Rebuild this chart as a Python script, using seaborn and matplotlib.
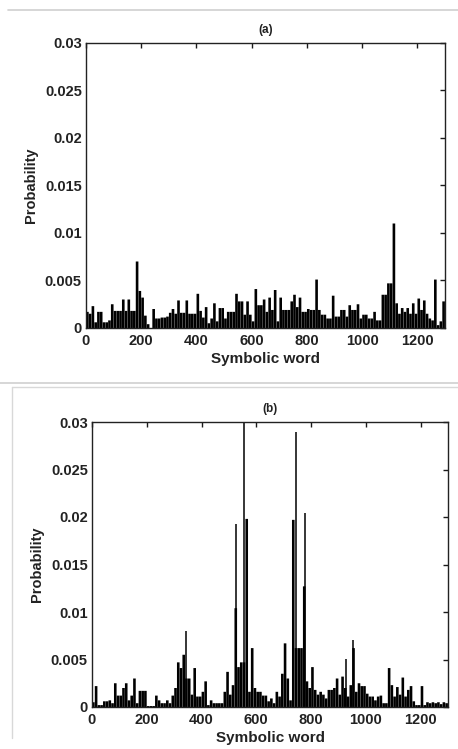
import matplotlib
matplotlib.use("Agg")
import matplotlib.pyplot as plt
from matplotlib.lines import Line2D
import numpy as np
import pandas as pd
import seaborn as sns

# word bins of width 10 (bin i covers words 10*i .. 10*i+10)
bin_width = 10
prob_a = [
    0.0017, 0.0015, 0.0023, 0.0006, 0.0017, 0.0017, 0.0006, 0.0006, 0.0008, 0.0025,
    0.0018, 0.0018, 0.0018, 0.0030, 0.0018, 0.0030, 0.0018, 0.0018, 0.0070, 0.0039,
    0.0032, 0.0013, 0.0004, 0.0000, 0.0020, 0.0010, 0.0010, 0.0011, 0.0011, 0.0012,
    0.0016, 0.0020, 0.0015, 0.0029, 0.0016, 0.0016, 0.0029, 0.0015, 0.0015, 0.0015,
    0.0036, 0.0018, 0.0011, 0.0022, 0.0005, 0.0010, 0.0026, 0.0007, 0.0021, 0.0021,
    0.0010, 0.0017, 0.0017, 0.0017, 0.0036, 0.0028, 0.0028, 0.0014, 0.0028, 0.0014,
    0.0007, 0.0041, 0.0024, 0.0024, 0.0030, 0.0017, 0.0032, 0.0019, 0.0040, 0.0007,
    0.0032, 0.0019, 0.0019, 0.0019, 0.0028, 0.0035, 0.0022, 0.0032, 0.0017, 0.0017,
    0.0020, 0.0019, 0.0019, 0.0051, 0.0019, 0.0014, 0.0014, 0.0010, 0.0010, 0.0034,
    0.0012, 0.0012, 0.0019, 0.0019, 0.0012, 0.0024, 0.0019, 0.0019, 0.0025, 0.0010,
    0.0014, 0.0014, 0.0010, 0.0010, 0.0017, 0.0008, 0.0008, 0.0035, 0.0035, 0.0047,
    0.0047, 0.0110, 0.0026, 0.0015, 0.0021, 0.0017, 0.0021, 0.0015, 0.0026, 0.0015,
    0.0031, 0.0019, 0.0029, 0.0015, 0.0010, 0.0008, 0.0051, 0.0003, 0.0007, 0.0028,
]
prob_b = [
    0.0005, 0.0022, 0.0002, 0.0002, 0.0006, 0.0006, 0.0007, 0.0004, 0.0025, 0.0012,
    0.0012, 0.0020, 0.0025, 0.0007, 0.0012, 0.0030, 0.0004, 0.0017, 0.0017, 0.0017,
    0.0001, 0.0001, 0.0001, 0.0012, 0.0007, 0.0004, 0.0004, 0.0007, 0.0004, 0.0012,
    0.0020, 0.0047, 0.0041, 0.0055, 0.0030, 0.0030, 0.0013, 0.0041, 0.0011, 0.0011,
    0.0016, 0.0027, 0.0002, 0.0007, 0.0004, 0.0004, 0.0004, 0.0004, 0.0016, 0.0037,
    0.0013, 0.0023, 0.0104, 0.0042, 0.0047, 0.0047, 0.0198, 0.0016, 0.0062, 0.0020,
    0.0016, 0.0016, 0.0012, 0.0012, 0.0006, 0.0009, 0.0004, 0.0016, 0.0011, 0.0035,
    0.0067, 0.0030, 0.0007, 0.0197, 0.0062, 0.0062, 0.0062, 0.0127, 0.0027, 0.0020,
    0.0042, 0.0018, 0.0013, 0.0016, 0.0013, 0.0009, 0.0018, 0.0018, 0.0020, 0.0030,
    0.0013, 0.0032, 0.0020, 0.0011, 0.0023, 0.0062, 0.0016, 0.0025, 0.0022, 0.0022,
    0.0014, 0.0011, 0.0011, 0.0007, 0.0011, 0.0012, 0.0004, 0.0004, 0.0041, 0.0023,
    0.0011, 0.0021, 0.0013, 0.0031, 0.0011, 0.0018, 0.0022, 0.0006, 0.0002, 0.0002,
    0.0022, 0.0002, 0.0005, 0.0004, 0.0005, 0.0004, 0.0005, 0.0003, 0.0005, 0.0004,
]
# single tall words sticking out of the bins
spike_words_b = [343, 526, 556, 744, 776, 927, 954]
spike_prob_b = [0.0080, 0.0193, 0.0300, 0.0290, 0.0204, 0.0051, 0.0071]

x_ticks = [0, 200, 400, 600, 800, 1000, 1200]
y_ticks = [0, 0.005, 0.01, 0.015, 0.02, 0.025, 0.03]
y_ticklabels = ["0", "0.005", "0.01", "0.015", "0.02", "0.025", "0.03"]

sns.set_style("white")
plt.rcParams["font.family"] = ["Liberation Sans", "DejaVu Sans"]
plt.rcParams["font.weight"] = "bold"

fig = plt.figure(figsize=(4.58, 7.49), dpi=100)
ax_a = fig.add_axes([86 / 458, 1 - 328 / 749, 359 / 458, 285 / 749])
ax_b = fig.add_axes([92 / 458, 1 - 707 / 749, 356 / 458, 285 / 749])


def draw_panel(ax, probs, title, spikes=None):
    words = np.arange(len(probs)) * bin_width + bin_width / 2
    df = pd.DataFrame({"word": words, "prob": probs})
    sns.barplot(data=df, x="word", y="prob", native_scale=True, width=0.95,
                color="black", linewidth=0, saturation=1, ax=ax)
    for p in ax.patches:
        p.set_snap(False)
    if spikes is not None:
        ax.vlines(spikes[0], 0, spikes[1], color="black", linewidth=1.1)
    ax.set_xlim(0, 1300)
    ax.set_ylim(0, 0.03)
    ax.set_xticks(x_ticks)
    ax.set_xticklabels([str(t) for t in x_ticks])
    ax.set_yticks(y_ticks)
    ax.set_yticklabels(y_ticklabels)
    ax.tick_params(direction="in", length=3.5, width=1, top=True, right=True,
                   labelsize=10.5, colors="#1a1a1a", labelcolor="#222222")
    ax.tick_params(axis="x", pad=4)
    ax.tick_params(axis="y", pad=3)
    for lbl in ax.get_xticklabels() + ax.get_yticklabels():
        lbl.set_fontweight("bold")
    for sp in ax.spines.values():
        sp.set_visible(True)
        sp.set_color("#222222")
        sp.set_linewidth(1.0)
    ax.set_xlabel("Symbolic word", fontsize=11, fontweight="bold", color="#222222", labelpad=3)
    ax.set_ylabel("Probability", fontsize=10.5, fontweight="bold", color="#222222", labelpad=5)
    ax.set_title(title, fontsize=8.5, fontweight="bold", color="#222222", pad=7)


draw_panel(ax_a, prob_a, "(a)")
draw_panel(ax_b, prob_b, "(b)", (spike_words_b, spike_prob_b))

# page rules around the panels
W, H = 458, 749
fig.add_artist(Line2D([8 / W, 1], [1 - 10 / H] * 2, color="#d0d0d0", lw=1.2))
fig.add_artist(Line2D([0, 1], [1 - 383 / H] * 2, color="#d0d0d0", lw=1.2))
fig.add_artist(Line2D([12 / W, 1], [1 - 387 / H] * 2, color="#d8d8d8", lw=1.0))
fig.add_artist(Line2D([12 / W] * 2, [1 - 387 / H, 1 - 738 / H], color="#d8d8d8", lw=1.0))

fig.savefig("out.png", dpi=100)
